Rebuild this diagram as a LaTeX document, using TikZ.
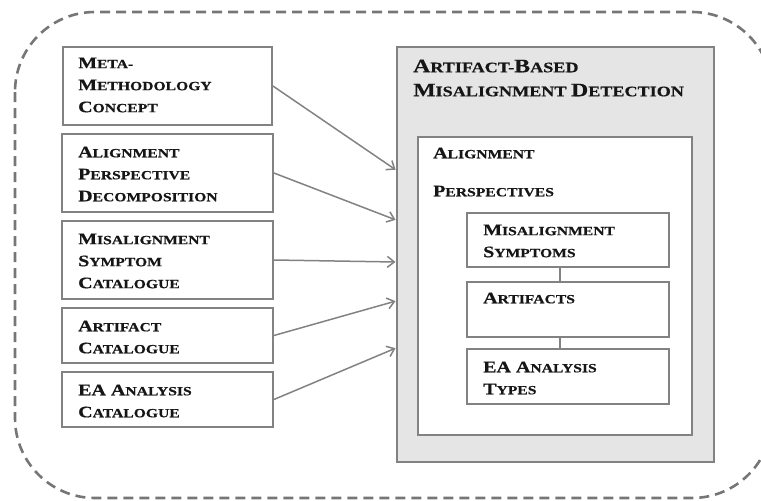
\documentclass[tikz,border=0pt]{standalone}
\usepackage{fontspec}
\setmainfont{Liberation Serif}[FakeStretch=1.25,BoldFeatures={FakeBold=0.5}]
\usepackage{tikz}
\usepackage{xcolor}
\usetikzlibrary{arrows.meta}

\definecolor{edgegray}{RGB}{130,130,130}
\definecolor{panelgray}{RGB}{229,229,229}
\definecolor{dashgray}{RGB}{118,118,118}
\definecolor{inkblack}{RGB}{22,22,22}

% fake small caps: large initial, smaller rest
\newcommand\scb[2]{{\fontsize{16}{22}\selectfont #1}{\fontsize{12.5}{22}\selectfont #2}}
\newcommand\sct[2]{{\fontsize{19}{24}\selectfont #1}{\fontsize{14.5}{24}\selectfont #2}}

\tikzset{
  srcbox/.style={draw=edgegray,line width=1.8pt,fill=white,inner sep=0pt},
  panel/.style={draw=edgegray,line width=1.8pt,fill=panelgray,inner sep=0pt},
  partbox/.style={draw=edgegray,line width=1.8pt,fill=white,inner sep=0pt},
  lbl/.style={anchor=north west,inner sep=0pt,align=left,text=inkblack,font=\bfseries\fontsize{16}{22}\selectfont},
  feed/.style={draw=edgegray,line width=1.5pt,-{Straight Barb[length=7pt,width=11pt,line width=1.5pt]},shorten >=0.5pt},
  link/.style={draw=edgegray,line width=1.8pt}
}

\begin{document}
\begin{tikzpicture}[x=1pt,y=1pt,yscale=-1,xscale=1]
\useasboundingbox (0,0) rectangle (761,501);

%Shape: outer dashed frame
\draw [dashgray,line width=2.6pt,dash pattern={on 10pt off 6pt},rounded corners=80pt] (15,12) rectangle (772,498);

%Shape: source boxes
\node [srcbox,minimum width=209,minimum height=78] (meta) at (167.5,86) {};
\node [srcbox,minimum width=211,minimum height=78] (decomp) at (167.5,173) {};
\node [srcbox,minimum width=211,minimum height=78] (symcat) at (167.5,260) {};
\node [srcbox,minimum width=211,minimum height=55] (artcat) at (167.5,335.5) {};
\node [srcbox,minimum width=211,minimum height=55] (anacat) at (167.5,399.5) {};

%Shape: detection panel
\node [panel,minimum width=317,minimum height=415] (detect) at (555.5,254.5) {};
\node [partbox,minimum width=274,minimum height=298] (persp) at (555,286) {};
\node [partbox,minimum width=202,minimum height=54] (symp) at (568,240) {};
\node [partbox,minimum width=202,minimum height=55] (arti) at (568,309.5) {};
\node [partbox,minimum width=202,minimum height=55] (types) at (568,376.5) {};

%Straight Lines: chain inside perspectives
\draw [link] ([xshift=-8pt]symp.south) -- ([xshift=-8pt]arti.north);
\draw [link] ([xshift=-8pt]arti.south) -- ([xshift=-8pt]types.north);

%Straight Lines: feeds into panel
\coordinate (in1) at (396,170);
\coordinate (in2) at (396,220);
\coordinate (in3) at (396,262);
\coordinate (in4) at (396,301);
\coordinate (in5) at (396,348);
\draw [feed] (meta.east) -- (in1);
\draw [feed] (decomp.east) -- (in2);
\draw [feed] (symcat.east) -- (in3);
\draw [feed] (artcat.east) -- (in4);
\draw [feed] (anacat.east) -- (in5);

% Text Node
\node [lbl] (tmeta) at (78,57.5) {\scb{M}{ETA-}\\\scb{M}{ETHODOLOGY}\\\scb{C}{ONCEPT}};
% Text Node
\node [lbl] (tdecomp) at (78,146.5) {\scb{A}{LIGNMENT}\\\scb{P}{ERSPECTIVE}\\\scb{D}{ECOMPOSITION}};
% Text Node
\node [lbl] (tsymcat) at (78,233.5) {\scb{M}{ISALIGNMENT}\\\scb{S}{YMPTOM}\\\scb{C}{ATALOGUE}};
% Text Node
\node [lbl] (tartcat) at (78,320.5) {\scb{A}{RTIFACT}\\\scb{C}{ATALOGUE}};
% Text Node
\node [lbl] (tanacat) at (78,384.5) {\scb{EA A}{NALYSIS}\\\scb{C}{ATALOGUE}};
% Text Node
\node [lbl,font=\bfseries\fontsize{19}{24}\selectfont] (tdetect) at (413,59.5) {\sct{A}{RTIFACT-}\sct{B}{ASED}\\\sct{M}{ISALIGNMENT }\sct{D}{ETECTION}};
% Text Node
\node [lbl,font=\bfseries\fontsize{16}{30}\selectfont] (tpersp) at (433,147.5) {\scb{A}{LIGNMENT}\\[8pt]\scb{P}{ERSPECTIVES}};
% Text Node
\node [lbl] (tsymp) at (483,224.5) {\scb{M}{ISALIGNMENT}\\\scb{S}{YMPTOMS}};
% Text Node
\node [lbl] (tarti) at (483,292.5) {\scb{A}{RTIFACTS}};
% Text Node
\node [lbl] (ttypes) at (483,361.5) {\scb{EA A}{NALYSIS}\\\scb{T}{YPES}};
\end{tikzpicture}
\end{document}
